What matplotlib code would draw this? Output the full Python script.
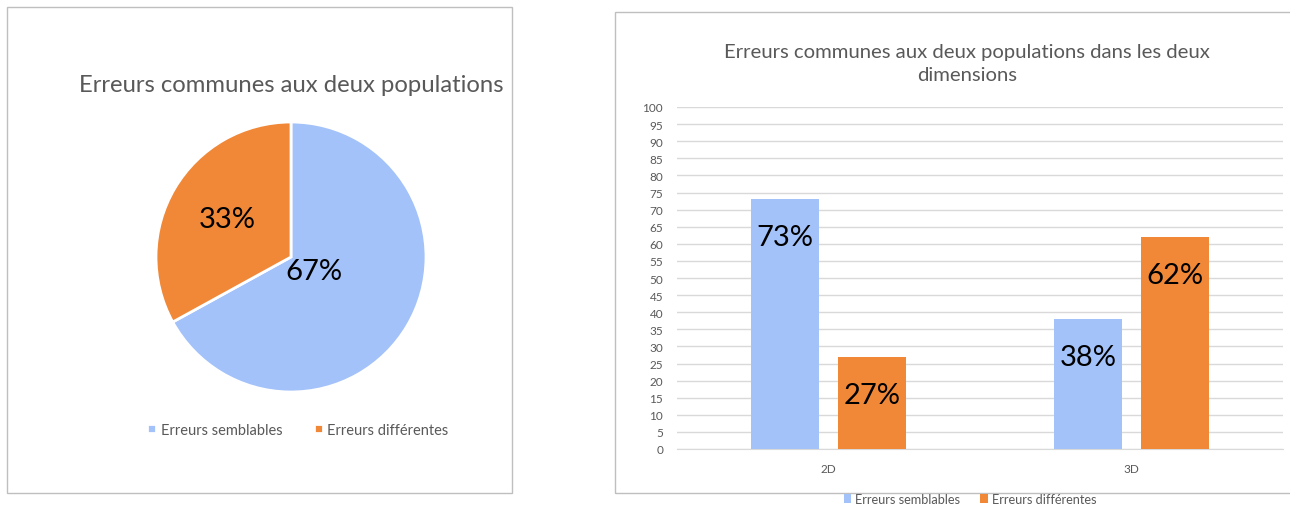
import matplotlib.pyplot as plt
import numpy as np
from matplotlib.patches import Rectangle

plt.rcParams['font.family'] = ['Lato', 'DejaVu Sans']

# pie: share of errors common to both populations
pie_labels = ['Erreurs semblables', 'Erreurs différentes']
pie_values = [67, 33]

# bars: same split, per dimension
dimensions = ['2D', '3D']
semblables = [73, 38]
differentes = [27, 62]

blue = '#a3c2fa'
orange = '#f08838'
grey_text = '#595959'
grid_col = '#d9d9d9'

W, H = 1290, 506
fig = plt.figure(figsize=(W / 100, H / 100), dpi=100)


def fx(px):
    return px / W


def fy(py):
    return 1 - py / H


# panel frames
fig.patches.append(Rectangle((fx(7), fy(494)), fx(505), (494 - 8) / H,
                             transform=fig.transFigure, fill=False,
                             edgecolor='#bfbfbf', lw=1))
fig.patches.append(Rectangle((fx(615), fy(494)), fx(700), (494 - 13) / H,
                             transform=fig.transFigure, fill=False,
                             edgecolor='#bfbfbf', lw=1))

# ---- pie chart ----
ax1 = fig.add_axes([fx(156), fy(393), fx(270), 270 / H])
wedges, _ = ax1.pie(pie_values, colors=[blue, orange], startangle=90,
                    counterclock=False,
                    wedgeprops=dict(edgecolor='white', linewidth=2))
ax1.set_xlim(-1, 1)
ax1.set_ylim(-1, 1)
ax1.set_aspect('equal')

# percentage labels inside the slices
total = sum(pie_values)
angle = 90
for val, rfrac in zip(pie_values, [0.2, 0.55]):
    sweep = 360 * val / total
    mid = np.deg2rad(angle - sweep / 2)
    ax1.text(rfrac * np.cos(mid), rfrac * np.sin(mid), f'{val}%',
             ha='center', va='center', fontsize=21, color='black')
    angle -= sweep

fig.text(fx(291), fy(85), 'Erreurs communes aux deux populations',
         ha='center', va='center', fontsize=17.2, color=grey_text)

fig.legend(wedges, pie_labels, loc='center', bbox_to_anchor=(fx(298), fy(431)),
           ncol=2, frameon=False, fontsize=10.5, labelcolor=grey_text,
           handlelength=0.6, handleheight=0.6, handletextpad=0.3,
           columnspacing=2.2)

# ---- bar chart ----
ax2 = fig.add_axes([fx(677), fy(450), fx(606), 342 / H])
x = np.arange(len(dimensions))
w = 0.224
off = 0.143
b1 = ax2.bar(x - off, semblables, w, color=blue, label='Erreurs semblables', zorder=3)
b2 = ax2.bar(x + off, differentes, w, color=orange, label='Erreurs différentes', zorder=3)

for bars, vals in [(b1, semblables), (b2, differentes)]:
    for bar, v in zip(bars, vals):
        ax2.annotate(f'{v}%', (bar.get_x() + bar.get_width() / 2, v),
                     xytext=(0, -18), textcoords='offset points',
                     ha='center', va='top', fontsize=21, color='black',
                     zorder=4)

ax2.set_xlim(-0.5, 1.5)
ax2.set_ylim(0, 100)
ax2.set_yticks(np.arange(0, 101, 5))
ax2.set_xticks(x)
ax2.set_xticklabels(dimensions)
ax2.tick_params(axis='both', length=0, labelsize=8.5, labelcolor=grey_text)
ax2.tick_params(axis='y', pad=10)
ax2.tick_params(axis='x', pad=10)
ax2.grid(axis='y', color=grid_col, lw=1, zorder=0)
for s in ['top', 'right', 'left']:
    ax2.spines[s].set_visible(False)
ax2.spines['bottom'].set_color(grid_col)

fig.text(fx(967), fy(64),
         'Erreurs communes aux deux populations dans les deux\ndimensions',
         ha='center', va='center', fontsize=14.6, color=grey_text,
         linespacing=1.45)

fig.legend([b1, b2], ['Erreurs semblables', 'Erreurs différentes'],
           loc='center', bbox_to_anchor=(fx(970), fy(500)), ncol=2,
           frameon=False, fontsize=9.2, labelcolor=grey_text,
           handlelength=0.6, handleheight=0.6, handletextpad=0.3,
           columnspacing=1.6)

fig.savefig('out.png', dpi=100, facecolor='white')
